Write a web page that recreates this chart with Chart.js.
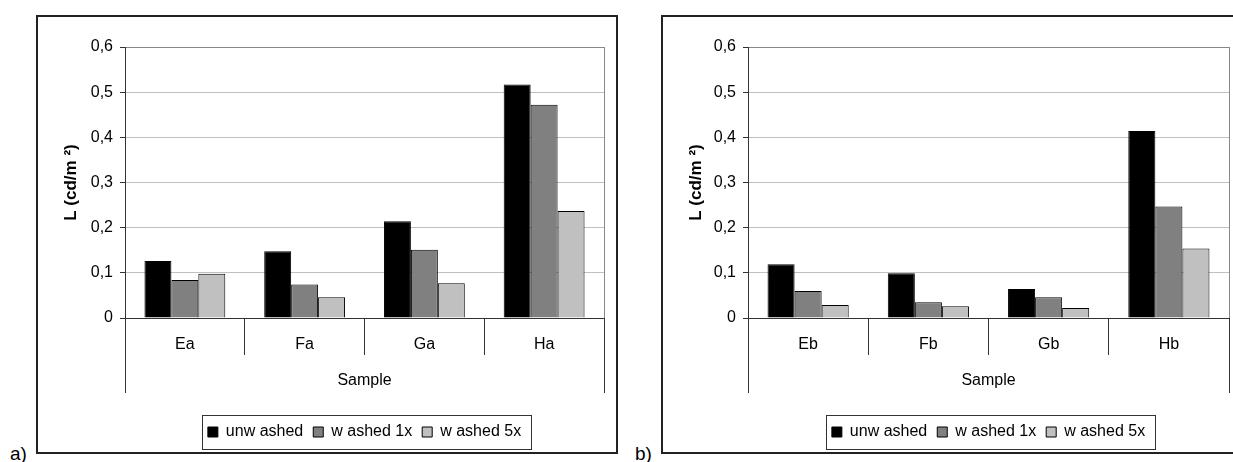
<!DOCTYPE html>
<html>
<head>
<meta charset="utf-8">
<script src="https://cdn.jsdelivr.net/npm/chart.js@4.4.0/dist/chart.umd.min.js"></script>
<style>
  html, body { margin: 0; padding: 0; background: #fff; }
  body { width: 1233px; height: 462px; position: relative; overflow: hidden; font-family: "Liberation Sans", Arial, sans-serif; }
  .panel { position: absolute; top: 15px; height: 439px; border: 2px solid #222; box-sizing: border-box; background: #fff; }
  .panel canvas { position: absolute; left: 0; top: 0; }
  .tag { position: absolute; top: 444px; font-size: 19px; line-height: 19px; color: #000; }
</style>
</head>
<body>
<div class="panel" style="left:36px; width:582px;"><canvas id="chartA" width="578" height="435"></canvas></div>
<div class="panel" style="left:661px; width:582px;"><canvas id="chartB" width="578" height="435"></canvas></div>
<div class="tag" style="left:10px;">a)</div>
<div class="tag" style="left:635px;">b)</div>
<script>
// Probenbezeichnungen
const samplesA = ['Ea', 'Fa', 'Ga', 'Ha'];
const samplesB = ['Eb', 'Fb', 'Gb', 'Hb'];

// Leuchtdichte L (cd/m²), Teil a)
const unwashedA = [0.126, 0.148, 0.214, 0.517];
const washed1A  = [0.084, 0.074, 0.151, 0.472];
const washed5A  = [0.098, 0.046, 0.077, 0.237];

// Teil b)
const unwashedB = [0.119, 0.099, 0.064, 0.414];
const washed1B  = [0.060, 0.035, 0.046, 0.247];
const washed5B  = [0.029, 0.026, 0.022, 0.154];

const seriesNames = ['unw ashed', 'w ashed 1x', 'w ashed 5x'];
const seriesColors = ['#000000', '#808080', '#c0c0c0'];
const yTicks = [0, 0.1, 0.2, 0.3, 0.4, 0.5, 0.6];

const FONT = '"Liberation Sans", Arial, sans-serif';

// Rahmen, Achsverlängerungen und Legendenkasten
const framePlugin = {
  id: 'frame',
  afterLayout(chart) {
    const lg = chart.legend, a = chart.chartArea;
    lg.left = a.left;
    lg.right = a.right;
    lg.top += 21;
    lg.bottom += 21;
  },
  beforeDatasetsDraw(chart) {
    const ctx = chart.ctx, a = chart.chartArea;
    ctx.save();
    ctx.strokeStyle = '#888';
    ctx.lineWidth = 1;
    ctx.beginPath();
    ctx.moveTo(Math.round(a.right) + 0.5, a.top);
    ctx.lineTo(Math.round(a.right) + 0.5, a.bottom);
    ctx.stroke();
    ctx.restore();
  },
  afterDraw(chart) {
    const ctx = chart.ctx, a = chart.chartArea, xs = chart.scales.x;
    ctx.save();
    ctx.strokeStyle = '#333';
    ctx.lineWidth = 1;
    ctx.beginPath();
    [a.left, a.right].forEach(x => {
      ctx.moveTo(Math.round(x) + 0.5, a.bottom);
      ctx.lineTo(Math.round(x) + 0.5, xs.bottom);
    });
    ctx.stroke();
    const hb = chart.legend.legendHitBoxes;
    if (hb && hb.length) {
      const first = hb[0], last = hb[hb.length - 1];
      const cy = first.top + first.height / 2;
      const l = Math.round(first.left - 6) + 0.5;
      const r = Math.round(last.left + last.width + 10) + 0.5;
      ctx.strokeRect(l, Math.round(cy - 17) + 0.5, r - l, 34);
    }
    ctx.restore();
  }
};

function makeChart(id, labels, values, areaLeft) {
  const ctx = document.getElementById(id).getContext('2d');
  return new Chart(ctx, {
    type: 'bar',
    data: {
      labels: labels,
      datasets: values.map((v, i) => ({
        label: seriesNames[i],
        data: v,
        backgroundColor: seriesColors[i],
        borderColor: '#000',
        borderWidth: 1,
        categoryPercentage: 0.675,
        barPercentage: 1.0
      }))
    },
    options: {
      responsive: false,
      animation: false,
      layout: { padding: { top: 30, right: 12, bottom: 23, left: 0 } },
      plugins: {
        legend: {
          position: 'bottom',
          labels: {
            boxWidth: 10,
            boxHeight: 10,
            padding: 10,
            color: '#000',
            font: { family: FONT, size: 16 }
          }
        },
        tooltip: { enabled: false }
      },
      scales: {
        x: {
          offset: true,
          grid: { offset: true, drawOnChartArea: false, drawTicks: true, tickLength: 37, color: '#333' },
          border: { color: '#333', width: 1 },
          ticks: { padding: -20, color: '#000', font: { family: FONT, size: 16 } },
          title: { display: true, text: 'Sample', color: '#000', padding: { top: 0, bottom: 3 }, font: { family: FONT, size: 16 } },
          afterFit: s => { s.height = 75; }
        },
        y: {
          min: 0,
          max: 0.6,
          afterBuildTicks: s => { s.ticks = yTicks.map(v => ({ value: v })); },
          grid: {
            color: c => (c.tick && c.tick.value === 0.6 ? '#888' : '#c0c0c0'),
            tickColor: '#333',
            tickLength: 5
          },
          border: { color: '#333', width: 1 },
          ticks: {
            padding: 7,
            color: '#000',
            font: { family: FONT, size: 16 },
            callback: v => (v === 0 ? '0' : v.toFixed(1).replace('.', ','))
          },
          title: { display: true, text: 'L (cd/m ²)', color: '#000', padding: { top: 23, bottom: 0 }, font: { family: FONT, size: 17, weight: 'bold' } },
          afterFit: s => { s.width = areaLeft; }
        }
      }
    },
    plugins: [framePlugin]
  });
}

document.addEventListener('DOMContentLoaded', function() {
  makeChart('chartA', samplesA, [unwashedA, washed1A, washed5A], 87);
  makeChart('chartB', samplesB, [unwashedB, washed1B, washed5B], 85);
});
</script>
</body>
</html>
